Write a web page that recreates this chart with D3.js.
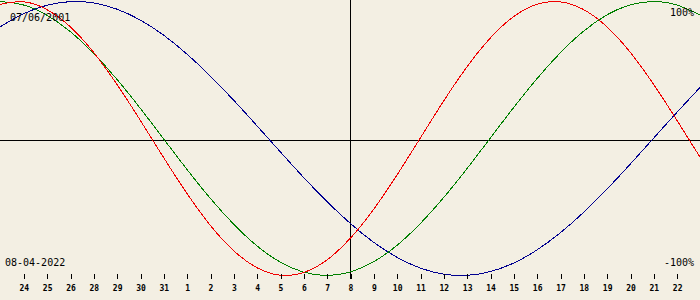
<!DOCTYPE html>
<html>
<head>
<meta charset="utf-8">
<script src="https://cdn.jsdelivr.net/npm/d3@7"></script>
<style>
  html, body { margin: 0; padding: 0; background: #f3efe3; }
  svg { display: block; }
</style>
</head>
<body>
<script>
// biorhythm, day offsets -15..+15 around the centre date
var birthLabel = '07/06/2001';
var dateLabel = '08-04-2022';
var days = d3.range(0, 31);

// values (-1..1)
var physical = [0.979, 0.998, 0.942, 0.817, 0.631, 0.398, 0.136, -0.136, -0.398, -0.631,
  -0.817, -0.942, -0.998, -0.979, -0.888, -0.731, -0.520, -0.270, 0, 0.270,
  0.520, 0.731, 0.888, 0.979, 0.998, 0.942, 0.817, 0.631, 0.398, 0.136, -0.136];
var emotional = [1, 0.975, 0.901, 0.782, 0.623, 0.434, 0.223, 0, -0.223, -0.434,
  -0.623, -0.782, -0.901, -0.975, -1, -0.975, -0.901, -0.782, -0.623, -0.434,
  -0.223, 0, 0.223, 0.434, 0.623, 0.782, 0.901, 0.975, 1, 0.975, 0.901];
var intellectual = [0.815, 0.910, 0.972, 0.999, 0.990, 0.945, 0.866, 0.756, 0.618, 0.458,
  0.282, 0.095, -0.095, -0.282, -0.458, -0.618, -0.756, -0.866, -0.945, -0.990,
  -0.999, -0.972, -0.910, -0.815, -0.690, -0.541, -0.372, -0.189, 0, 0.189, 0.372];

var tickDays = d3.range(1, 30);
var tickLabels = ['24', '25', '26', '28', '29', '30', '31', '1', '2', '3', '4', '5', '6', '7',
  '8', '9', '10', '11', '12', '13', '14', '15', '16', '17', '18', '19', '20', '21', '22'];

var series = [
  { values: intellectual, color: '#000090' },
  { values: emotional, color: '#008000' },
  { values: physical, color: '#f00000' }
];

var width = 700,
    height = 300;

var svg = d3.select('body').append('svg')
  .attr('width', width)
  .attr('height', height)
  .style('background', '#f3efe3');

var x = d3.scaleLinear().domain([0, 30]).range([0, width]);
var y = d3.scaleLinear().domain([-1, 1]).range([275.5, 1.5]);

// crosshair
svg.append('line')
  .attr('x1', 0).attr('x2', width)
  .attr('y1', 140.5).attr('y2', 140.5)
  .attr('stroke', '#000').attr('shape-rendering', 'crispEdges');
svg.append('line')
  .attr('x1', x(15) + 0.5).attr('x2', x(15) + 0.5)
  .attr('y1', 0).attr('y2', 279)
  .attr('stroke', '#000').attr('shape-rendering', 'crispEdges');

var line = d3.line()
  .x(function(d, i) { return x(days[i]); })
  .y(function(d) { return y(d); })
  .curve(d3.curveNatural);

svg.append('g')
  .selectAll('path')
  .data(series)
  .enter().append('path')
    .attr('d', function(d) { return line(d.values); })
    .attr('fill', 'none')
    .attr('stroke', function(d) { return d.color; })
    .attr('stroke-width', 1)
    .attr('shape-rendering', 'crispEdges');

// day ticks
var axis = d3.axisBottom(x)
  .tickValues(tickDays)
  .tickFormat(function(d, i) { return tickLabels[i]; })
  .tickSize(5)
  .tickPadding(6);

var gAxis = svg.append('g')
  .attr('transform', 'translate(0.5,274)')
  .call(axis);
gAxis.select('.domain').remove();
gAxis.selectAll('.tick line').attr('stroke', '#000').attr('shape-rendering', 'crispEdges');
gAxis.selectAll('.tick text')
  .attr('fill', '#000')
  .style('font-family', '"DejaVu Sans Mono", monospace')
  .style('font-size', '8px')
  .style('font-weight', 'bold');

var labelFont = '"DejaVu Sans Mono", monospace';

svg.append('text')
  .attr('x', 10).attr('y', 20.5)
  .style('font-family', labelFont).style('font-size', '10px')
  .text(birthLabel);
svg.append('text')
  .attr('x', 5).attr('y', 266)
  .style('font-family', labelFont).style('font-size', '10px')
  .text(dateLabel);
svg.append('text')
  .attr('x', 694).attr('y', 15.5)
  .attr('text-anchor', 'end')
  .style('font-family', labelFont).style('font-size', '10px')
  .text('100%');
svg.append('text')
  .attr('x', 694).attr('y', 266)
  .attr('text-anchor', 'end')
  .style('font-family', labelFont).style('font-size', '10px')
  .text('-100%');
</script>
</body>
</html>
